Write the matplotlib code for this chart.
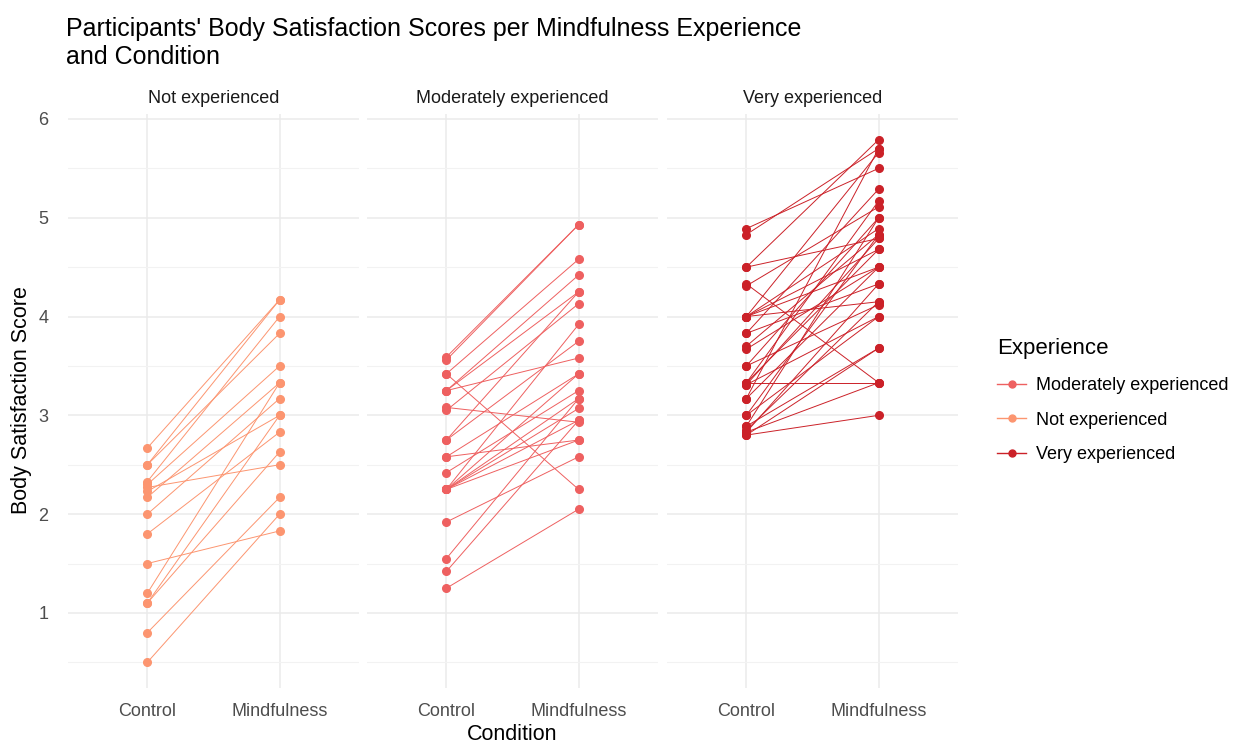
import matplotlib.pyplot as plt
from matplotlib.lines import Line2D
from matplotlib.ticker import MultipleLocator

plt.rcParams['font.family'] = ['Liberation Sans', 'DejaVu Sans']

conditions = ['Control', 'Mindfulness']
panels = ['Not experienced', 'Moderately experienced', 'Very experienced']

ctrl_not = [2.67, 2.50, 2.50, 2.33, 2.30, 2.27, 2.23, 2.17, 2.00, 1.80,
            1.50, 1.20, 1.10, 1.10, 0.80, 0.50]
mind_not = [4.17, 4.17, 3.83, 4.00, 3.50, 2.50, 3.00, 3.33, 3.17, 2.83,
            1.83, 3.33, 3.00, 2.63, 2.17, 2.00]

ctrl_mod = [3.59, 3.56, 3.42, 3.42, 3.25, 3.25, 3.25, 3.08, 3.05, 2.75,
            2.75, 2.58, 2.58, 2.42, 2.25, 2.25, 2.25, 2.25, 2.25, 2.25,
            1.92, 1.55, 1.42, 1.25]
mind_mod = [4.93, 4.93, 4.58, 2.25, 4.42, 4.25, 3.58, 2.93, 4.13, 4.25,
            3.75, 3.42, 2.75, 3.25, 3.92, 3.42, 3.17, 3.07, 2.95, 2.75,
            2.58, 3.17, 2.95, 2.05]

ctrl_very = [4.89, 4.83, 4.50, 4.50, 4.33, 4.31, 4.00, 4.00, 4.00, 4.00,
             4.00, 3.83, 3.83, 3.70, 3.67, 3.50, 3.50, 3.33, 3.33, 3.33,
             3.31, 3.31, 3.17, 3.17, 3.00, 3.00, 2.89, 2.89, 2.83, 2.83,
             2.80, 2.80, 2.85]
mind_very = [5.50, 5.70, 5.79, 4.79, 3.33, 5.11, 5.66, 4.89, 4.68, 4.50,
             4.15, 5.29, 4.33, 4.83, 4.50, 5.00, 4.12, 3.33, 4.68, 5.17,
             4.79, 4.00, 4.50, 5.70, 4.83, 4.00, 5.00, 3.68, 4.33, 3.33,
             3.00, 3.68, 4.15]

colors = {'Moderately experienced': '#EE6060',
          'Not experienced': '#FC9570',
          'Very experienced': '#CB2128'}

data = {'Not experienced': (ctrl_not, mind_not),
        'Moderately experienced': (ctrl_mod, mind_mod),
        'Very experienced': (ctrl_very, mind_very)}

fig = plt.figure(figsize=(12.44, 7.44), dpi=100)
lefts = [68, 367, 667]
width = 291
bottom = 1 - 688 / 744
height = (688 - 114) / 744

for i, name in enumerate(panels):
    ax = fig.add_axes([lefts[i] / 1244, bottom, width / 1244, height])
    ctrl, mind = data[name]
    for c, m in zip(ctrl, mind):
        ax.plot([1, 2], [c, m], color=colors[name], lw=0.7,
                marker='o', ms=5.5, zorder=3)
    ax.set_xlim(0.4, 2.6)
    ax.set_ylim(0.24, 6.05)
    ax.set_xticks([1, 2])
    ax.set_xticklabels(conditions)
    ax.yaxis.set_major_locator(MultipleLocator(1))
    ax.yaxis.set_minor_locator(MultipleLocator(0.5))
    ax.grid(True, which='major', color='#EBEBEB', lw=1.1)
    ax.grid(True, which='minor', axis='y', color='#F2F2F2', lw=0.8)
    ax.set_axisbelow(True)
    for s in ax.spines.values():
        s.set_visible(False)
    ax.tick_params(which='both', length=0, labelsize=13, colors='#4D4D4D')
    ax.tick_params(axis='x', pad=11)
    ax.tick_params(axis='y', pad=14)
    if i > 0:
        ax.set_yticklabels([])
    ax.set_title(name, fontsize=13, color='#1A1A1A', pad=8)

fig.text(66 / 1244, 1 - 43 / 744, "Participants' Body Satisfaction Scores per Mindfulness Experience\nand Condition",
         fontsize=18, ha='left', va='center', linespacing=1.25)
fig.text(512 / 1244, 1 - 735 / 744, 'Condition', fontsize=15.5, ha='center', va='center')
fig.text(22 / 1244, 1 - 400 / 744, 'Body Satisfaction Score', fontsize=15.5,
         ha='center', va='center', rotation=90)

handles = [Line2D([], [], color=colors[k], marker='o', ms=5, lw=1)
           for k in ['Moderately experienced', 'Not experienced', 'Very experienced']]
leg = fig.legend(handles, ['Moderately experienced', 'Not experienced', 'Very experienced'],
                 title='Experience', loc='upper left',
                 bbox_to_anchor=(990 / 1244, 1 - 331 / 744), frameon=False,
                 fontsize=13, title_fontsize=16, labelspacing=0.98,
                 handlelength=1.6, handletextpad=0.55, borderaxespad=0)
leg._legend_box.align = 'left'

fig.savefig('out.png', dpi=100)
